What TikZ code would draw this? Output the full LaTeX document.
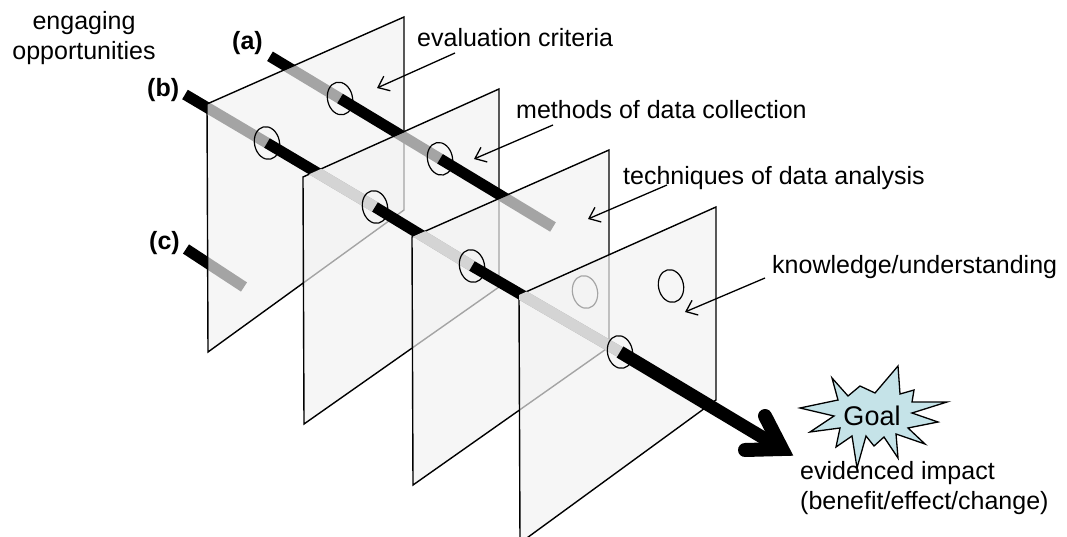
\documentclass[tikz,border=0pt]{standalone}
\usepackage{fontspec}
\setmainfont{Liberation Sans}
\usetikzlibrary{arrows.meta,shapes.geometric}
\definecolor{panelgrey}{RGB}{242,242,242}
\definecolor{rodlight}{RGB}{212,212,212}
\definecolor{goalblue}{RGB}{197,227,232}
\begin{document}
\begin{tikzpicture}[x=1pt,y=-1pt,
  panel/.style={draw=black, line width=1.4pt, fill=panelgrey, fill opacity=0.68, line join=miter},
  rod/.style={line width=11pt, line cap=butt},
  hole/.style={draw=black, line width=1.2pt, ellipse, minimum width=25pt, minimum height=33pt, inner sep=0pt, rotate=12},
  note/.style={font=\fontsize{25}{30}\selectfont, inner sep=0pt},
  tag/.style={font=\fontsize{25}{30}\selectfont\bfseries, inner sep=0pt},
  pointer/.style={line width=1.3pt, -{Straight Barb[length=10pt,width=16pt]}},
  chevron/.style={line width=14pt, line cap=round, line join=miter},
]
\useasboundingbox (0,0) rectangle (1067,537);
\clip (0,0) rectangle (1067,537);

% panel corners (top-left, top-right, bottom-right, bottom-left)
\coordinate (P1a) at (207,104); \coordinate (P1b) at (404,17);
\coordinate (P1c) at (404,210); \coordinate (P1d) at (208,352);
\coordinate (P2a) at (303,177); \coordinate (P2b) at (499,89);
\coordinate (P2c) at (499,287); \coordinate (P2d) at (304,424);
\coordinate (P3a) at (412,237); \coordinate (P3b) at (609,150);
\coordinate (P3c) at (609,347); \coordinate (P3d) at (413,485);
\coordinate (P4a) at (519,295); \coordinate (P4b) at (716,207);
\coordinate (P4c) at (716,400); \coordinate (P4d) at (520,543);

% rod (a)
\coordinate (A0) at (270,56.3);
\coordinate (a1) at (340,98.5);
\coordinate (a2) at (440,158.8);
\coordinate (A1) at (553,227);
% rod (b)
\coordinate (B0) at (185,94.5);
\coordinate (b1) at (267,143);
\coordinate (b2) at (375,207);
\coordinate (b3) at (472,266);
\coordinate (b4) at (620,352);
\coordinate (V) at (782,449);
\coordinate (U) at (765,416);
\coordinate (L) at (745,450);
% rod (c)
\coordinate (C0) at (186,249);
\coordinate (C1) at (244,287);
% holes without a rod
\coordinate (g3) at (585,292);
\coordinate (k4) at (671,286);

% rods behind the first panel
\draw[rod] (A0) -- (a1);
\draw[rod] (B0) -- (b1);
\draw[rod] (C0) -- (C1);

% panel 1
\draw[panel] (P1a) -- (P1b) -- (P1c) -- (P1d) -- cycle;
\node[hole] (h-a1) at (a1) {};
\node[hole] (h-b1) at (b1) {};
\draw[rod] (a1) -- (a2);
\draw[rod] (b1) -- (b2);

% panel 2
\draw[panel] (P2a) -- (P2b) -- (P2c) -- (P2d) -- cycle;
\begin{scope}
  \clip (P2a) -- (P2b) -- (P2c) -- (P2d) -- cycle;
  \draw[rod, rodlight] (b1) -- (b2);
\end{scope}
\node[hole] (h-a2) at (a2) {};
\node[hole] (h-b2) at (b2) {};
\draw[rod] (a2) -- (A1);
\draw[rod] (b2) -- (b3);

% panel 3
\draw[panel] (P3a) -- (P3b) -- (P3c) -- (P3d) -- cycle;
\begin{scope}
  \clip (P3a) -- (P3b) -- (P3c) -- (P3d) -- cycle;
  \draw[rod, rodlight] (b2) -- (b3);
\end{scope}
\node[hole] (h-b3) at (b3) {};
\node[hole] (h-g3) at (g3) {};
\draw[rod] (b3) -- (b4);

% panel 4
\draw[panel] (P4a) -- (P4b) -- (P4c) -- (P4d) -- cycle;
\begin{scope}
  \clip (P4a) -- (P4b) -- (P4c) -- (P4d) -- cycle;
  \draw[rod, rodlight] (b3) -- (b4);
\end{scope}
\node[hole] (h-b4) at (b4) {};
\node[hole] (h-k4) at (k4) {};

% main arrow towards the goal
\draw[line width=13pt] (b4) -- (V);
\draw[chevron] (U) -- (V) -- (L);

% goal burst
\draw[line width=1.3pt, fill=goalblue, line join=miter]
  (800,408) -- (838,400) -- (832,378) -- (848,396) -- (860,386) -- (875,393)
  -- (898,366) -- (900,394) -- (914,390) -- (912,402) -- (947,402) -- (912,413)
  -- (938,422) -- (908,428) -- (925,444) -- (896,434) -- (898,458) -- (884,437)
  -- (874,446) -- (866,436) -- (857,468) -- (852,436) -- (836,447) -- (840,428)
  -- (810,432) -- (834,416) -- cycle;
\node[note, font=\fontsize{27}{32}\selectfont, anchor=base] (goal) at (872,425) {Goal};

% labels (multi-line nodes sit on the baseline of their last line)
\node[note, anchor=base, align=center] (engage) at (84,60) {engaging\\opportunities};
\node[tag, anchor=base west] (la) at (232,50) {(a)};
\node[tag, anchor=base west] (lb) at (147,97) {(b)};
\node[tag, anchor=base west] (lc) at (149,250) {(c)};
\node[note, anchor=base west] (eval) at (417,47) {evaluation criteria};
\node[note, anchor=base west] (methods) at (516,119) {methods of data collection};
\node[note, anchor=base west] (tech) at (623,185) {techniques of data analysis};
\node[note, anchor=base west] (know) at (772,273) {knowledge/understanding};
\node[note, anchor=base west, align=left] (impact) at (800,509) {evidenced impact\\(benefit/effect/change)};

% pointers from the labels to the panels
\coordinate (evalFrom) at (455,53);   \coordinate (evalTo) at (377,88);
\coordinate (methFrom) at (553,125);  \coordinate (methTo) at (474,159);
\coordinate (techFrom) at (667,185);  \coordinate (techTo) at (588,219);
\coordinate (knowFrom) at (765,278);  \coordinate (knowTo) at (685,312);
\draw[pointer] (evalFrom) -- (evalTo);
\draw[pointer] (methFrom) -- (methTo);
\draw[pointer] (techFrom) -- (techTo);
\draw[pointer] (knowFrom) -- (knowTo);
\end{tikzpicture}
\end{document}
